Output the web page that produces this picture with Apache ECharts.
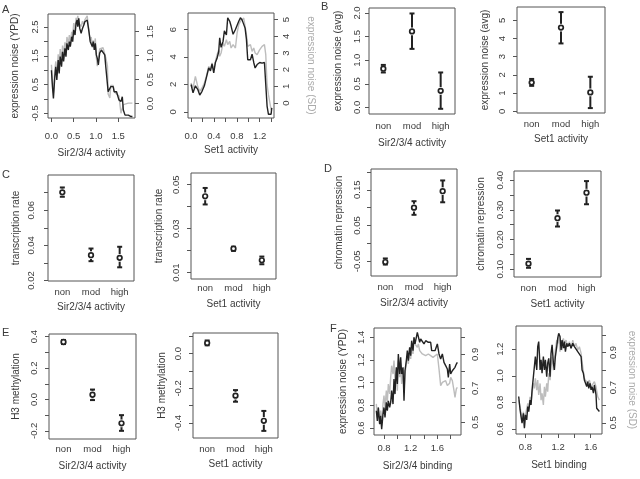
<!DOCTYPE html>
<html><head><meta charset="utf-8">
<script src="https://cdn.jsdelivr.net/npm/echarts@6/dist/echarts.min.js"></script>
<style>html,body{margin:0;padding:0;background:#fff}#c{width:640px;height:479px}</style>
</head><body><div id="c"></div>
<script>
// ---------------- DATA ----------------
const categories = ['non', 'mod', 'high'];

// Panel A (left): Sir2/3/4 activity sliding window
const a1X = [0,0.023,0.045,0.076,0.098,0.121,0.152,0.174,0.197,0.227,0.25,0.273,0.303,0.326,0.348,0.379,0.402,0.424,0.455,0.477,0.5,0.53,0.553,0.576,0.591,0.614,0.636,0.667,0.697,0.727,0.75,0.78,0.803,0.826,0.848,0.871,0.894,0.917,0.939,0.962,0.985,1.008,1.03,1.053,1.083,1.121,1.159,1.197,1.22,1.258,1.273,1.311,1.333,1.386,1.409,1.462,1.5,1.515,1.561,1.591,1.614,1.636,1.652,1.727,1.788,1.818];
const a1NoiseYPD = [1.0,0.43,0.02,0.78,1.12,0.66,1.35,0.89,1.47,1.12,1.64,1.30,1.76,1.47,1.93,1.70,1.99,1.82,2.16,1.99,2.40,2.22,2.63,2.74,2.51,2.80,2.45,2.28,2.45,2.57,2.68,2.63,2.74,2.51,2.28,1.99,1.93,1.82,1.99,1.70,1.93,1.53,1.41,1.18,1.59,1.70,1.64,1.53,1.12,1.12,0.25,0.20,0.43,0.43,0.25,0.25,0.25,-0.03,-0.09,0.08,-0.38,-0.38,-0.56,-0.56,-0.61,-0.61];
const a1NoiseSD = [0.81,0.45,0.23,0.70,0.88,0.59,1.03,0.78,1.14,0.88,1.21,0.99,1.28,1.10,1.39,1.25,1.43,1.28,1.50,1.39,1.68,1.54,1.79,1.72,1.83,1.68,1.72,1.61,1.72,1.64,1.75,1.79,1.83,1.64,1.46,1.32,1.39,1.17,1.32,1.21,1.36,0.96,0.78,0.74,1.14,1.10,1.17,1.03,0.96,0.78,0.20,0.12,0.38,0.38,0.25,0.20,0.20,0.16,-0.2,-0.2,-0.02,-0.02,0.0,0.01,0.01,0.01];
// Panel A (right): Set1 activity
const a2X = [0,0.035,0.076,0.117,0.152,0.192,0.233,0.268,0.309,0.338,0.367,0.397,0.426,0.455,0.484,0.501,0.525,0.56,0.583,0.618,0.641,0.676,0.70,0.735,0.776,0.805,0.834,0.863,0.892,0.921,0.945,0.968,0.991,1.038,1.067,1.096,1.12,1.155,1.201,1.242,1.283,1.306,1.329,1.353,1.399,1.411];
const a2NoiseYPD = [2.0,1.4,1.9,1.65,1.23,1.5,1.9,2.5,3.2,3.0,3.5,2.85,3.6,3.9,4.4,5.4,4.7,5.15,5.9,5.6,6.85,6.6,6.25,5.65,6.0,5.9,6.6,6.85,6.7,6.6,6.1,5.3,3.8,3.8,4.2,3.6,3.2,3.45,3.6,3.55,3.6,2.0,0.43,-0.17,-0.17,0.3];
const a2NoiseSD = [1.2,0.9,1.6,1.0,0.7,0.9,1.2,1.6,2.2,1.9,2.4,2.0,2.5,2.9,3.2,2.8,3.0,3.6,3.4,3.8,3.5,3.7,3.3,3.5,3.3,4.2,4.7,4.9,4.8,5.1,4.6,4.1,3.4,3.5,3.1,3.3,3.0,2.9,3.2,3.4,3.5,2.9,1.1,0.5,-0.4,-0.3];

// Panel B: expression noise (avg)
const b1Mean = [0.82, 1.61, 0.35], b1Low = [0.74, 1.24, -0.03], b1High = [0.90, 1.99, 0.74];
const b2Mean = [1.58, 4.60, 1.04], b2Low = [1.40, 3.73, 0.18], b2High = [1.78, 5.45, 1.90];
// Panel C: transcription rate
const c1Mean = [0.0702, 0.0344, 0.0329], c1Low = [0.0677, 0.0310, 0.0275], c1High = [0.0730, 0.0382, 0.0392];
const c2Mean = [0.0447, 0.0209, 0.0156], c2Low = [0.0410, 0.0199, 0.0138], c2High = [0.0485, 0.0218, 0.0173];
// Panel D: chromatin repression
const d1Mean = [-0.052, 0.100, 0.146], d1Low = [-0.059, 0.080, 0.115], d1High = [-0.042, 0.118, 0.176];
const d2Mean = [0.119, 0.272, 0.358], d2Low = [0.105, 0.244, 0.319], d2High = [0.135, 0.298, 0.397];
// Panel E: H3 methylation
const e1Mean = [0.366, 0.030, -0.152], e1Low = [0.353, -0.004, -0.200], e1High = [0.379, 0.063, -0.100];
const e2Mean = [0.061, -0.242, -0.387], e2Low = [0.048, -0.277, -0.445], e2High = [0.076, -0.210, -0.330];

// Panel F (left): Sir2/3/4 binding
const f1X = [0.685,0.70,0.715,0.735,0.75,0.765,0.785,0.80,0.815,0.835,0.85,0.865,0.885,0.90,0.915,0.935,0.95,0.965,0.985,1.0,1.015,1.035,1.05,1.065,1.085,1.10,1.115,1.135,1.15,1.165,1.185,1.20,1.215,1.235,1.25,1.265,1.285,1.30,1.315,1.335,1.35,1.375,1.40,1.425,1.465,1.50,1.515,1.535,1.565,1.60,1.625,1.65,1.675,1.70,1.725,1.75,1.765,1.785,1.80,1.825,1.85,1.865,1.885,1.90];
const f1NoiseYPD = [0.752,0.663,0.781,0.634,0.708,0.590,0.722,0.781,0.693,0.826,0.752,0.840,0.781,0.826,0.929,0.811,1.032,0.899,1.135,0.988,1.253,1.076,1.223,1.076,1.135,0.840,1.105,1.194,1.282,1.194,1.312,1.238,1.370,1.282,1.400,1.341,1.400,1.444,1.429,1.356,1.385,1.370,1.341,1.370,1.356,1.356,1.282,1.297,1.282,1.341,1.253,1.208,1.253,1.179,1.150,1.120,1.046,1.164,1.076,1.105,1.091,1.135,1.164,1.179];
const f1NoiseSD = [0.608,0.529,0.588,0.490,0.569,0.480,0.608,0.657,0.588,0.686,0.618,0.725,0.667,0.765,0.833,0.784,0.863,0.735,0.804,0.686,0.863,0.765,0.824,0.725,0.804,0.686,0.784,0.843,0.892,0.843,0.912,0.873,0.941,0.902,1.000,0.961,0.971,0.941,0.961,0.922,0.931,0.902,0.912,0.892,0.902,0.892,0.890,0.882,0.873,0.902,0.814,0.716,0.735,0.725,0.745,0.716,0.720,0.730,0.765,0.745,0.686,0.647,0.696,0.706];
// Panel F (right): Set1 binding
const f2XYPD = [0.718,0.735,0.747,0.759,0.776,0.788,0.80,0.816,0.829,0.841,0.857,0.869,0.882,0.898,0.910,0.922,0.939,0.951,0.963,0.971,0.980,0.992,1.004,1.020,1.033,1.045,1.061,1.073,1.086,1.102,1.114,1.127,1.143,1.155,1.167,1.184,1.196,1.208,1.224,1.237,1.249,1.265,1.278,1.290,1.306,1.318,1.339,1.359,1.380,1.40,1.420,1.441,1.461,1.482,1.494,1.51,1.522,1.535,1.551,1.563,1.576,1.592,1.604,1.616,1.633,1.645,1.657,1.665,1.673,1.690,1.706];
const f2NoiseYPD = [0.844,0.743,0.693,0.643,0.718,0.605,0.706,0.668,0.768,0.731,0.818,0.781,0.894,0.994,1.069,1.145,1.044,1.220,1.258,1.170,1.044,1.120,1.019,1.145,1.044,1.120,0.993,1.095,1.132,0.993,1.170,1.233,1.095,1.044,1.145,1.220,1.283,1.320,1.295,1.195,1.270,1.208,1.258,1.182,1.245,1.220,1.245,1.208,1.245,1.220,1.233,1.182,1.170,1.145,1.044,1.019,0.969,0.981,0.919,0.957,0.906,0.944,0.894,0.919,0.869,0.931,0.944,0.856,0.756,0.743,0.731];
const f2XSD = [0.718,0.735,0.747,0.759,0.776,0.788,0.80,0.816,0.829,0.841,0.857,0.869,0.882,0.898,0.910,0.922,0.939,0.951,0.963,0.980,0.992,1.004,1.020,1.033,1.045,1.061,1.073,1.086,1.102,1.114,1.127,1.143,1.155,1.167,1.184,1.196,1.208,1.224,1.237,1.249,1.265,1.278,1.298,1.318,1.339,1.359,1.380,1.40,1.420,1.441,1.461,1.482,1.502,1.522,1.543,1.563,1.584,1.604,1.624,1.645,1.665,1.686,1.706];
const f2NoiseSD = [0.629,0.591,0.553,0.515,0.563,0.477,0.544,0.553,0.610,0.582,0.648,0.610,0.667,0.724,0.696,0.753,0.686,0.743,0.658,0.724,0.629,0.667,0.601,0.705,0.648,0.724,0.677,0.781,0.743,0.819,0.876,0.800,0.857,0.914,0.971,0.952,0.990,0.905,0.962,0.914,0.981,0.952,0.971,0.933,0.962,0.924,0.971,0.933,0.952,0.914,0.933,0.895,0.819,0.753,0.743,0.724,0.743,0.705,0.715,0.734,0.705,0.648,0.629];

// Tick positions / labels
const a1XTicks = [0, 0.5, 1, 1.5];
const a1YTicks = [-0.5, 0, 0.5, 1, 1.5, 2, 2.5], a1YLabels = [-0.5, 0.5, 1.5, 2.5];
const a1YRTicks = [0, 0.5, 1, 1.5];
const a2XTicks = [0, 0.2, 0.4, 0.6, 0.8, 1.0, 1.2, 1.4], a2XLabels = [0, 0.4, 0.8, 1.2];
const a2YTicks = [0, 2, 4, 6], a2YRTicks = [0, 1, 2, 3, 4, 5];
const b1YTicks = [0, 0.5, 1, 1.5, 2], b2YTicks = [0, 1, 2, 3, 4, 5];
const c1YTicks = [0.02, 0.03, 0.04, 0.05, 0.06, 0.07], c1YLabels = [0.02, 0.04, 0.06];
const c2YTicks = [0.01, 0.02, 0.03, 0.04, 0.05], c2YLabels = [0.01, 0.03, 0.05];
const d1YTicks = [-0.05, 0, 0.05, 0.1, 0.15, 0.2], d1YLabels = [-0.05, 0.05, 0.15];
const d2YTicks = [0.1, 0.15, 0.2, 0.25, 0.3, 0.35, 0.4], d2YLabels = [0.1, 0.2, 0.3, 0.4];
const e1YTicks = [-0.2, -0.1, 0, 0.1, 0.2, 0.3, 0.4], e1YLabels = [-0.2, 0, 0.2, 0.4];
const e2YTicks = [-0.4, -0.3, -0.2, -0.1, 0, 0.1], e2YLabels = [-0.4, -0.2, 0];
const f1XTicks = [0.8, 1.0, 1.2, 1.4, 1.6, 1.8], fXLabels = [0.8, 1.2, 1.6];
const f2XTicks = [0.8, 1.0, 1.2, 1.4, 1.6];
const f1YTicks = [0.6, 0.8, 1.0, 1.2, 1.4], f2YTicks = [0.6, 0.8, 1.0, 1.2];
const fYRTicks = [0.5, 0.6, 0.7, 0.8, 0.9, 1.0], fYRLabels = [0.5, 0.7, 0.9];

// ---------------- BUILD ----------------
const FONT = '"Liberation Sans", Arial, Helvetica, sans-serif';
const TXT = '#3a3a3a';
const BOX = '#555';
const GRAYTXT = '#aaaaaa';
const TICKFS = 9.5, NAMEFS = 10;
const grid = [], xAxis = [], yAxis = [], series = [];
const fmt = d => (v => Number(v).toFixed(d));

function valueAxis(o, isY) {
  return {
    type: 'value', gridIndex: o.gi, min: o.range[0], max: o.range[1],
    position: o.position, scale: true,
    axisLine: { show: false, onZero: false }, splitLine: { show: false },
    axisTick: { show: true, length: 4, inside: false, lineStyle: { color: BOX, width: 1 }, customValues: o.ticks },
    axisLabel: { customValues: o.labels || o.ticks, formatter: fmt(o.dec), margin: o.margin,
      rotate: isY ? 90 : 0, fontSize: TICKFS, color: TXT, fontFamily: FONT },
    name: o.name || '', nameLocation: 'middle', nameGap: o.nameGap || 20,
    nameRotate: o.nameRotate,
    nameTextStyle: { fontSize: NAMEFS, color: o.nameColor || TXT, fontFamily: FONT }
  };
}

function panel(p) {
  const gi = grid.length;
  grid.push({ left: p.box[0], top: p.box[1], width: p.box[2], height: p.box[3], show: true,
    borderColor: BOX, borderWidth: 1, backgroundColor: 'transparent' });
  const xi = xAxis.length;
  if (p.cat) {
    xAxis.push({ type: 'category', gridIndex: gi, data: p.cat, boundaryGap: true, position: 'bottom',
      axisLine: { show: false, onZero: false }, axisTick: { show: false }, splitLine: { show: false },
      axisLabel: { margin: p.x.margin, fontSize: TICKFS, color: TXT, fontFamily: FONT, interval: 0 },
      name: p.x.name, nameLocation: 'middle', nameGap: p.x.nameGap,
      nameTextStyle: { fontSize: NAMEFS, color: TXT, fontFamily: FONT } });
  } else {
    xAxis.push(valueAxis(Object.assign({ gi, position: 'bottom' }, p.x), false));
  }
  const yi = yAxis.length;
  yAxis.push(valueAxis(Object.assign({ gi, position: 'left' }, p.y), true));
  let yri = null;
  if (p.yr) {
    yri = yAxis.length;
    yAxis.push(valueAxis(Object.assign({ gi, position: 'right' }, p.yr), true));
  }
  return { xi, yi, yri };
}

function errRender(params, api) {
  const i = api.value(0);
  const pm = api.coord([i, api.value(1)]);
  const pl = api.coord([i, api.value(2)]);
  const ph = api.coord([i, api.value(3)]);
  const cx = pm[0];
  const st = { stroke: '#222', lineWidth: 2 };
  return { type: 'group', children: [
    { type: 'line', shape: { x1: cx, y1: pl[1], x2: cx, y2: ph[1] }, style: st },
    { type: 'circle', shape: { cx: cx, cy: pm[1], r: 3.9 }, style: { fill: '#fff' } },
    { type: 'line', shape: { x1: cx - 2.5, y1: pl[1], x2: cx + 2.5, y2: pl[1] }, style: st },
    { type: 'line', shape: { x1: cx - 2.5, y1: ph[1], x2: cx + 2.5, y2: ph[1] }, style: st },
    { type: 'circle', shape: { cx: cx, cy: pm[1], r: 2.3 }, style: { fill: '#fff', stroke: '#222', lineWidth: 1.7 } }
  ] };
}

function addErr(ax, mean, low, high) {
  series.push({ type: 'custom', xAxisIndex: ax.xi, yAxisIndex: ax.yi, renderItem: errRender,
    encode: { x: 0, y: [1, 2, 3] }, clip: false,
    data: categories.map((c, i) => [i, mean[i], low[i], high[i]]) });
}
function addLine(xi, yi, xs, ys, color, w) {
  series.push({ type: 'line', xAxisIndex: xi, yAxisIndex: yi, showSymbol: false, symbol: 'none',
    lineStyle: { color: color, width: w }, itemStyle: { color: color },
    data: xs.map((x, i) => [x, ys[i]]) });
}
const BLACK = '#222', GRAY = '#bdbdbd';

// A left
let ax = panel({ box: [48, 14, 87, 104],
  x: { range: [-0.077, 1.876], ticks: a1XTicks, dec: 1, margin: 13, name: 'Sir2/3/4 activity', nameGap: 30 },
  y: { range: [-0.66, 2.95], ticks: a1YTicks, labels: a1YLabels, dec: 1, margin: 8, name: 'expression noise (YPD)', nameGap: 28 },
  yr: { range: [-0.30, 1.87], ticks: a1YRTicks, dec: 1, margin: 10 } });
addLine(ax.xi, ax.yri, a1X, a1NoiseSD, GRAY, 1.4);
addLine(ax.xi, ax.yi, a1X, a1NoiseYPD, BLACK, 1.4);
// A right
ax = panel({ box: [188, 13, 86, 105],
  x: { range: [-0.053, 1.45], ticks: a2XTicks, labels: a2XLabels, dec: 1, margin: 13, name: 'Set1 activity', nameGap: 27 },
  y: { range: [-0.44, 7.2], ticks: a2YTicks, dec: 0, margin: 10 },
  yr: { range: [-0.9, 5.4], ticks: a2YRTicks, dec: 0, margin: 7.7, name: 'expression noise (SD)', nameGap: 32, nameRotate: -90, nameColor: GRAYTXT } });
addLine(ax.xi, ax.yri, a2X, a2NoiseSD, GRAY, 1.4);
addLine(ax.xi, ax.yi, a2X, a2NoiseYPD, BLACK, 1.4);

// B
ax = panel({ box: [369, 8, 86, 106], cat: categories,
  x: { margin: 7, name: 'Sir2/3/4 activity', nameGap: 24 },
  y: { range: [-0.14, 2.106], ticks: b1YTicks, dec: 1, margin: 6.7, name: 'expression noise (avg)', nameGap: 26 } });
addErr(ax, b1Mean, b1Low, b1High);
ax = panel({ box: [517, 7, 88, 106], cat: categories,
  x: { margin: 6, name: 'Set1 activity', nameGap: 21.7 },
  y: { range: [-0.09, 5.73], ticks: b2YTicks, dec: 0, margin: 9.4, name: 'expression noise (avg)', nameGap: 26.7 } });
addErr(ax, b2Mean, b2Low, b2High);

// C
ax = panel({ box: [48, 175, 86, 106], cat: categories,
  x: { margin: 6, name: 'Sir2/3/4 activity', nameGap: 21 },
  y: { range: [0.0197, 0.0801], ticks: c1YTicks, labels: c1YLabels, dec: 2, margin: 11.7, name: 'transcription rate', nameGap: 26.7 } });
addErr(ax, c1Mean, c1Low, c1High);
ax = panel({ box: [191, 173, 85, 106], cat: categories,
  x: { margin: 4, name: 'Set1 activity', nameGap: 20.7 },
  y: { range: [0.0071, 0.0553], ticks: c2YTicks, labels: c2YLabels, dec: 2, margin: 10, name: 'transcription rate', nameGap: 26.4 } });
addErr(ax, c2Mean, c2Low, c2High);

// D
ax = panel({ box: [371, 169, 86, 107], cat: categories,
  x: { margin: 6, name: 'Sir2/3/4 activity', nameGap: 22.6 },
  y: { range: [-0.091, 0.208], ticks: d1YTicks, labels: d1YLabels, dec: 2, margin: 8.7, name: 'chromatin repression', nameGap: 27 } });
addErr(ax, d1Mean, d1Low, d1High);
ax = panel({ box: [514, 171, 87, 106], cat: categories,
  x: { margin: 6, name: 'Set1 activity', nameGap: 22.3 },
  y: { range: [0.074, 0.431], ticks: d2YTicks, labels: d2YLabels, dec: 2, margin: 9, name: 'chromatin repression', nameGap: 27.3 } });
addErr(ax, d2Mean, d2Low, d2High);

// E
ax = panel({ box: [49, 334, 87, 105], cat: categories,
  x: { margin: 5, name: 'Sir2/3/4 activity', nameGap: 22 },
  y: { range: [-0.252, 0.417], ticks: e1YTicks, labels: e1YLabels, dec: 1, margin: 9.3, name: 'H3 methylation', nameGap: 27.6 } });
addErr(ax, e1Mean, e1Low, e1High);
ax = panel({ box: [193, 333, 85, 105], cat: categories,
  x: { margin: 6, name: 'Set1 activity', nameGap: 21.7 },
  y: { range: [-0.486, 0.119], ticks: e2YTicks, labels: e2YLabels, dec: 1, margin: 9.4, name: 'H3 methylation', nameGap: 26 } });
addErr(ax, e2Mean, e2Low, e2High);

// F left
ax = panel({ box: [374, 328, 87, 107],
  x: { range: [0.65, 1.955], ticks: f1XTicks, labels: fXLabels, dec: 1, margin: 8.3, name: 'Sir2/3/4 binding', nameGap: 26.7 },
  y: { range: [0.538, 1.482], ticks: f1YTicks, dec: 1, margin: 7.3, name: 'expression noise (YPD)', nameGap: 25.7 },
  yr: { range: [0.425, 1.055], ticks: fYRTicks, labels: fYRLabels, dec: 1, margin: 9 } });
addLine(ax.xi, ax.yri, f1X, f1NoiseSD, GRAY, 1.4);
addLine(ax.xi, ax.yi, f1X, f1NoiseYPD, BLACK, 1.4);
// F right
ax = panel({ box: [516, 326, 86, 108],
  x: { range: [0.685, 1.738], ticks: f2XTicks, labels: fXLabels, dec: 1, margin: 8.3, name: 'Set1 binding', nameGap: 26 },
  y: { range: [0.562, 1.375], ticks: f2YTicks, dec: 1, margin: 11 },
  yr: { range: [0.436, 1.051], ticks: fYRTicks, labels: fYRLabels, dec: 1, margin: 6, name: 'expression noise (SD)', nameGap: 25, nameRotate: -90, nameColor: GRAYTXT } });
addLine(ax.xi, ax.yri, f2XSD, f2NoiseSD, GRAY, 1.4);
addLine(ax.xi, ax.yi, f2XYPD, f2NoiseYPD, BLACK, 1.4);

// Panel letters
const letters = [['A', 2, 4], ['B', 321, 1], ['C', 2, 169], ['D', 324, 163], ['E', 2, 327], ['F', 330, 323]];
const title = letters.map(l => ({ text: l[0], left: l[1], top: l[2], padding: 0,
  textStyle: { fontSize: 11, fontWeight: 'normal', color: TXT, fontFamily: FONT } }));

const chart = echarts.init(document.getElementById('c'), null, { renderer: 'canvas' });
chart.setOption({ animation: false, backgroundColor: '#fff', title, grid, xAxis, yAxis, series });
</script></body></html>
